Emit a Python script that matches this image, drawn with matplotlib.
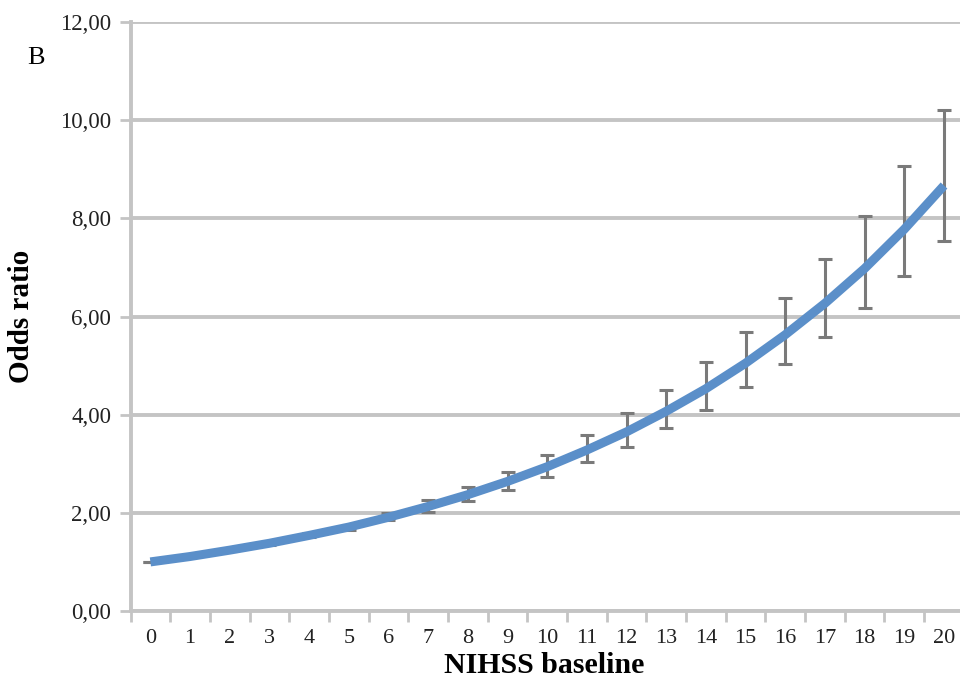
import numpy as np
import matplotlib.pyplot as plt

# NIHSS baseline categories and odds ratios
nihss = list(range(21))
odds_ratio = [1.00, 1.11, 1.24, 1.38, 1.54, 1.71, 1.91, 2.13, 2.37, 2.64, 2.94,
              3.28, 3.65, 4.07, 4.53, 5.05, 5.63, 6.27, 6.98, 7.78, 8.67]
ci_low = [1.00, 1.10, 1.22, 1.35, 1.50, 1.66, 1.85, 2.02, 2.24, 2.46, 2.73,
          3.03, 3.34, 3.73, 4.09, 4.56, 5.03, 5.58, 6.17, 6.82, 7.54]
ci_high = [1.00, 1.12, 1.26, 1.41, 1.58, 1.76, 1.99, 2.26, 2.53, 2.83, 3.18,
           3.58, 4.03, 4.50, 5.07, 5.68, 6.37, 7.17, 8.04, 9.06, 10.20]
y_ticks = [0, 2, 4, 6, 8, 10, 12]

plt.rcParams['font.family'] = ['Liberation Serif', 'DejaVu Serif']

fig = plt.figure(figsize=(9.6, 6.8), dpi=100)
ax = fig.add_axes([0.136, 0.1015, 0.868, 0.866])

x = np.array(nihss)
y = np.array(odds_ratio)
yerr = [y - np.array(ci_low), np.array(ci_high) - y]

ax.errorbar(x, y, yerr=yerr, fmt='none', ecolor='#7a7a7a', elinewidth=2.2,
            capsize=5, capthick=2.2, zorder=2)
ax.plot(x, y, color='#5b8fc9', linewidth=6.5, solid_capstyle='butt', zorder=3)

ax.set_xlim(-0.5, 20.5)
ax.set_ylim(0, 12)

ax.set_yticks(y_ticks)
ax.set_yticklabels([f'{v:.2f}'.replace('.', ',') for v in y_ticks], fontsize=16.5, color='#222222')
ax.yaxis.grid(True, color='#c4c4c4', linewidth=2.8)
ax.set_axisbelow(True)

# category axis: tick marks between categories, labels at centers
ax.set_xticks(np.arange(-0.5, 21, 1))
ax.set_xticklabels([])
ax.set_xticks(x, minor=True)
ax.set_xticklabels([str(v) for v in nihss], minor=True, fontsize=16, color='#222222')
ax.tick_params(axis='x', which='major', length=8, width=2, color='#c4c4c4', direction='out')
ax.tick_params(axis='x', which='minor', length=0, pad=13)
ax.tick_params(axis='y', length=8, width=2, color='#c4c4c4', pad=6)

for side in ['top', 'right']:
    ax.spines[side].set_visible(False)
for side in ['left', 'bottom']:
    ax.spines[side].set_color('#c4c4c4')
    ax.spines[side].set_linewidth(2.8)

fig.text(0.567, 0.0215, 'NIHSS baseline', fontsize=21.5, fontweight='bold',
         ha='center', va='center')
ax.set_ylabel('Odds ratio', fontsize=21, fontweight='bold', labelpad=18)

fig.text(0.037, 0.914, 'B', fontsize=19, ha='center', va='center')

fig.savefig('out.png', dpi=100)
